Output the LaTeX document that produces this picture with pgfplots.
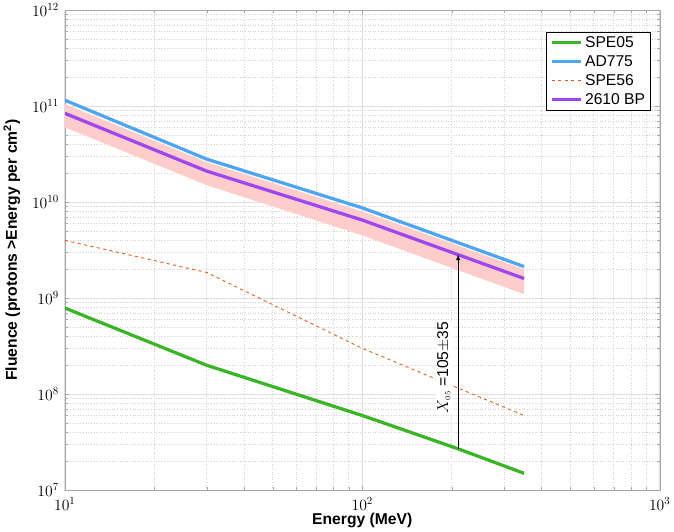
\documentclass[border=0pt]{standalone}
\usepackage{pgfplots}
\pgfplotsset{compat=1.18}
\usepackage{fontspec}
\setmainfont{Liberation Sans}
\setsansfont{Liberation Sans}
\begin{document}
\begin{tikzpicture}
\begin{axis}[
  xmode=log, ymode=log,
  width=545bp, height=440bp, scale only axis,
  xmin=10, xmax=1000, ymin=1e7, ymax=1e12,
  grid=both,
  major grid style={gray!25, line width=0.6pt},
  minor grid style={gray!35, dotted, line width=0.6pt},
  axis line style={gray!70},
  tick style={gray!70},
  ticklabel style={font=\Large},
  xticklabel style={yshift=-3pt},
  yticklabel style={xshift=-2pt},
  xlabel={\textbf{Energy (MeV)}},
  ylabel={\textbf{Fluence (protons >Energy per cm$^\mathbf{2}$)}},
  label style={font=\Large},
  xlabel style={yshift=4pt},
  ylabel style={yshift=4pt},
  legend style={at={(0.985,0.955)}, anchor=north east, font=\Large, draw=black, row sep=2pt},
  legend image post style={xscale=1.6},
  legend cell align=left,
]
\addplot[draw=none, fill=red!20, forget plot] coordinates {
 (10,1.05e11) (30,2.6e10) (100,8e9) (350,2e9)
 (350,1.1e9) (100,4.5e9) (30,1.5e10) (10,6e10)} -- cycle;
\addplot[color={rgb,255:red,60;green,180;blue,40}, line width=3pt] coordinates {
 (10,7.9e8) (30,2e8) (100,6e7) (210,2.7e7) (350,1.5e7)};
\addlegendentry{SPE05}
\addplot[color={rgb,255:red,80;green,165;blue,240}, line width=3pt] coordinates {
 (10,1.15e11) (30,2.8e10) (100,8.7e9) (350,2.13e9)};
\addlegendentry{AD775}
\addplot[color={rgb,255:red,230;green,90;blue,30}, dashed, line width=0.8pt] coordinates {
 (10,4e9) (30,1.85e9) (100,3e8) (350,6e7)};
\addlegendentry{SPE56}
\addplot[color={rgb,255:red,160;green,70;blue,240}, line width=3pt] coordinates {
 (10,8.4e10) (30,2.1e10) (100,6.5e9) (350,1.6e9)};
\addlegendentry{2610 BP}
\draw[-latex, line width=0.8pt] (axis cs:210,2.7e7) -- (axis cs:210,2.85e9);
\node[rotate=90, font=\Large, fill=white, inner sep=1pt] at (axis cs:188,1.9e8) {$X_{\scriptscriptstyle 05}$ =105$\pm$35};
\end{axis}
\end{tikzpicture}
\end{document}
